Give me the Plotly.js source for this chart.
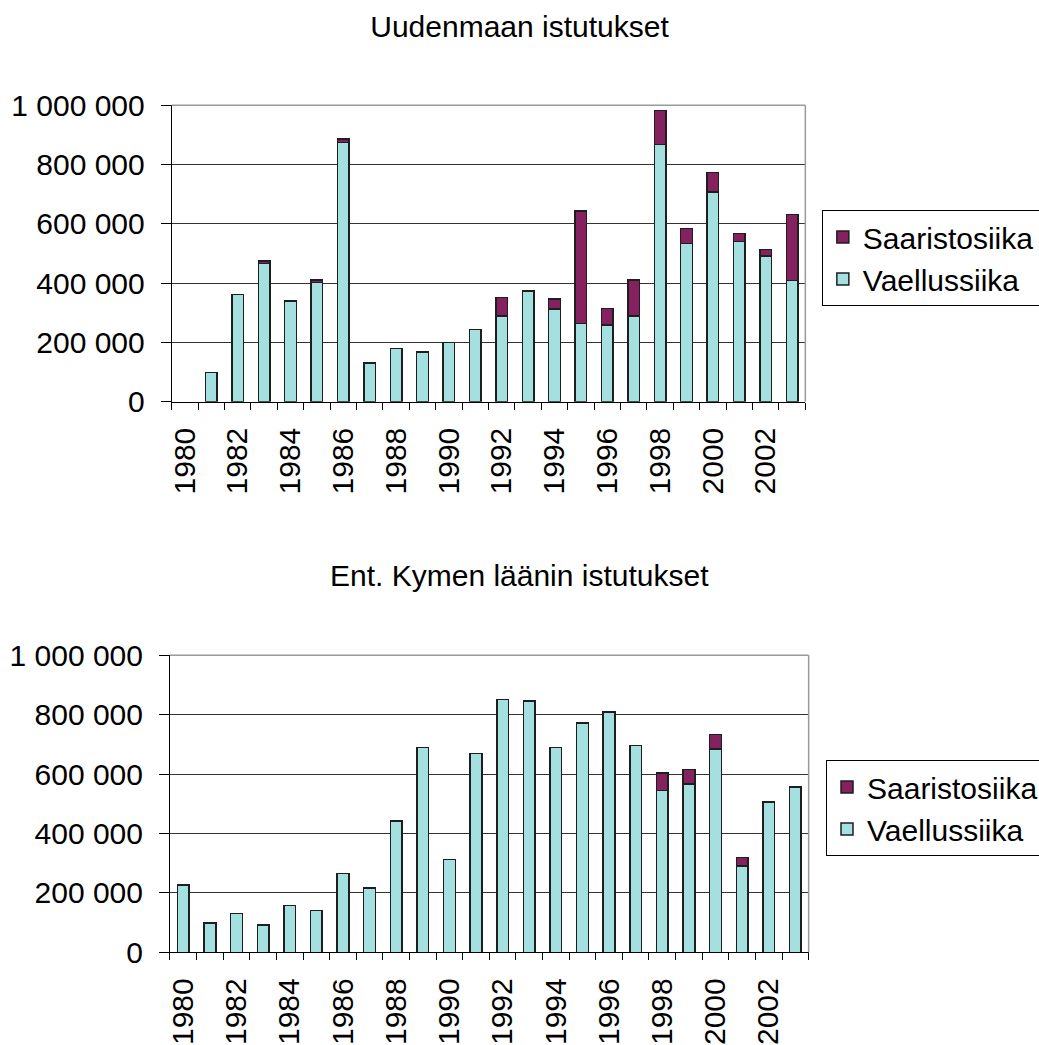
<!DOCTYPE html>
<html>
<head>
<meta charset="utf-8">
<script src="https://cdn.plot.ly/plotly-3.0.1.min.js"></script>
<style>html,body{margin:0;padding:0;background:#fff;}#chart{width:1039px;height:1045px;}</style>
</head>
<body>
<div id="chart"></div>
<script>
const years = [1980,1981,1982,1983,1984,1985,1986,1987,1988,1989,1990,1991,1992,1993,1994,1995,1996,1997,1998,1999,2000,2001,2002,2003];
const titleTop = "Uudenmaan istutukset";
const titleBottom = "Ent. Kymen läänin istutukset";
const seriesNames = ["Saaristosiika", "Vaellussiika"];
// Uusimaa
const uusiVaellus = [null,98000,362000,466000,340000,403000,875000,130000,179000,168000,200000,244000,290000,373000,313000,264000,259000,290000,868000,534000,708000,540000,492000,409000];
const uusiSaaristo = [null,null,null,9000,null,8000,12000,null,null,null,null,null,62000,null,33000,379000,55000,121000,115000,51000,66000,28000,22000,223000];
// Kymi
const kymiVaellus = [227000,98000,130000,92000,157000,141000,265000,217000,442000,690000,313000,669000,852000,846000,690000,772000,809000,696000,544000,566000,685000,291000,506000,557000];
const kymiSaaristo = [null,null,null,null,null,null,null,null,null,null,null,null,null,null,null,null,null,null,60000,49000,48000,28000,null,null];

const cVael = '#a4e0e0', cSaar = '#85215f', cLine = '#1e1e1e';
const FONT = 'Liberation Sans, Arial, sans-serif';
const FS = 30;

function bar(x, y, name, color, xa, ya, leg) {
  return {type:'bar', x:x, y:y, name:name, xaxis:xa, yaxis:ya, legend:leg,
    marker:{color:color, line:{color:cLine, width:1.5}}, hoverinfo:'x+y+name'};
}

const data = [
  bar(years, uusiVaellus, seriesNames[1], cVael, 'x', 'y', 'legend'),
  bar(years, uusiSaaristo, seriesNames[0], cSaar, 'x', 'y', 'legend'),
  bar(years, kymiVaellus, seriesNames[1], cVael, 'x2', 'y2', 'legend2'),
  bar(years, kymiSaaristo, seriesNames[0], cSaar, 'x2', 'y2', 'legend2')
];

function xax(domain, anchor) {
  return {domain:domain, anchor:anchor, type:'linear', range:[1979.5, 2003.5],
    tickmode:'linear', tick0:1980, dtick:2, tickformat:'d', tickangle:-90,
    ticks:'', showline:true, linecolor:'#000', linewidth:1, showgrid:false, zeroline:false,
    tickfont:{family:FONT, size:FS, color:'#000'}, ticklabelstandoff:13,
    minor:{tick0:1979.5, dtick:1, ticks:'outside', ticklen:7, tickcolor:'#000', tickwidth:1, showgrid:false},
    fixedrange:true};
}
function yax(domain, anchor) {
  return {domain:domain, anchor:anchor, range:[0, 1000000], tickmode:'linear', tick0:0, dtick:200000,
    tickformat:',d', ticks:'outside', ticklen:10, tickcolor:'#000', tickwidth:1,
    showline:true, linecolor:'#000', linewidth:1, showgrid:true, gridcolor:'#333', gridwidth:1,
    zeroline:false, tickfont:{family:FONT, size:FS, color:'#000'}, ticklabelstandoff:10,
    fixedrange:true};
}

function border(xr, yr) {
  return [
    {type:'line', xref:xr+' domain', yref:yr+' domain', x0:0, x1:1, y0:1, y1:1, line:{color:'#9a9a9a', width:1.5}, layer:'above'},
    {type:'line', xref:xr+' domain', yref:yr+' domain', x0:1, x1:1, y0:0, y1:1, line:{color:'#9a9a9a', width:1.5}, layer:'above'}
  ];
}

const legendStyle = (x, y) => ({x:x, y:y, xanchor:'left', yanchor:'top', xref:'paper', yref:'paper',
  bgcolor:'#fff', bordercolor:'#000', borderwidth:1, traceorder:'reversed',
  font:{family:FONT, size:FS, color:'#000'}});

const layout = {
  width:1039, height:1045,
  margin:{l:0, r:0, t:0, b:0, autoexpand:false},
  paper_bgcolor:'#fff', plot_bgcolor:'#fff',
  separators:', ',
  barmode:'stack', bargap:0.56,
  font:{family:FONT, size:FS, color:'#000'},
  title:{text:titleTop, x:0.5, xanchor:'center', xref:'container', yref:'container', y:0.9745, yanchor:'middle',
    font:{family:FONT, size:FS, color:'#000'}},
  annotations:[{text:titleBottom, xref:'paper', yref:'paper', x:0.5, y:0.4490, xanchor:'center', yanchor:'middle',
    showarrow:false, font:{family:FONT, size:FS, color:'#000'}}],
  xaxis: xax([0.1653, 0.7751], 'y'),
  yaxis: yax([0.6156, 0.8992], 'x'),
  xaxis2: xax([0.1636, 0.7783], 'y2'),
  yaxis2: yax([0.0887, 0.3729], 'x2'),
  legend: legendStyle(0.791, 0.799),
  legend2: legendStyle(0.795, 0.2727),
  shapes: border('x','y').concat(border('x2','y2')),
  showlegend:true
};

Plotly.newPlot('chart', data, layout, {displayModeBar:false, staticPlot:true});
</script>
</body>
</html>
